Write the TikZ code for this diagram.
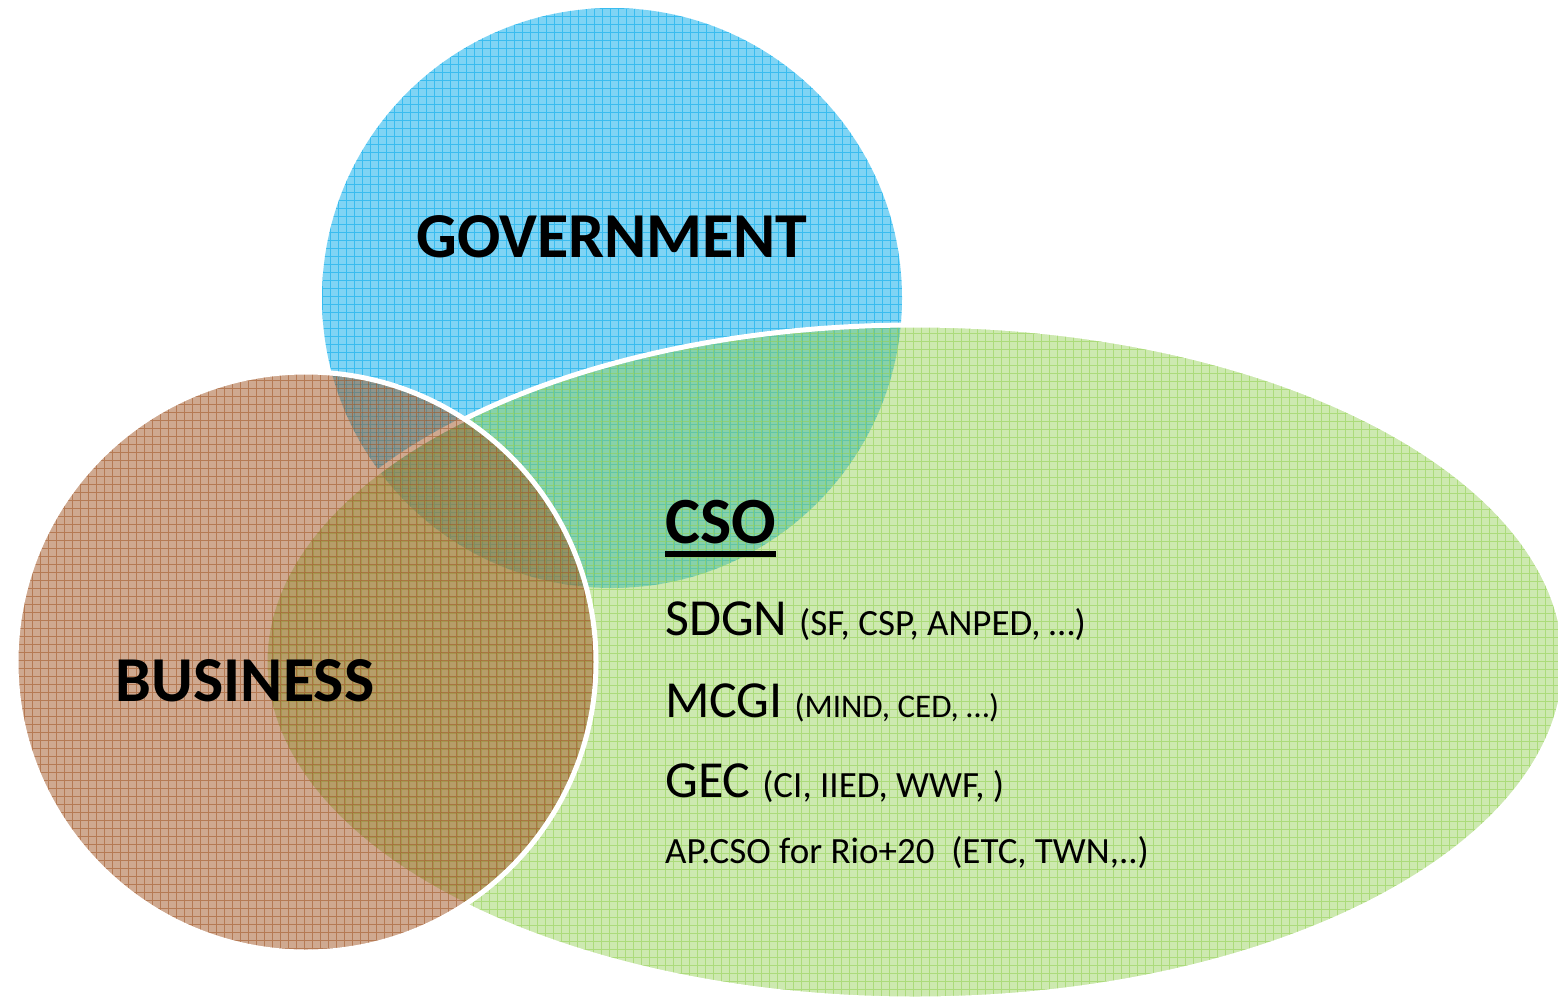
\documentclass[tikz,border=0pt]{standalone}
\usepackage{fontspec}
\setmainfont{Carlito}
\definecolor{blueC}{RGB}{0,170,235}
\definecolor{greenC}{RGB}{146,208,80}
\definecolor{brownC}{RGB}{160,85,35}
\newcommand{\myfs}[1]{\fontsize{#1}{#1}\selectfont}
\begin{document}
\begin{tikzpicture}[x=1pt,y=-1pt,
  gridlines/.style={line width=0.9pt, opacity=0.55},
  outline/.style={draw=white, line width=5pt},
  bigtitle/.style={font=\bfseries\myfs{64}, inner sep=0pt, anchor=base},
  item/.style={font=\myfs{52}, inner sep=0pt, anchor=base west}]
\useasboundingbox (0,0) rectangle (1558,996);
\fill[white] (0,0) rectangle (1558,996);

% Government circle
\fill[blueC, fill opacity=0.5] (612,298) circle (290pt);
\begin{scope}
  \clip (612,298) circle (290pt);
  \draw[blueC, gridlines]
    \foreach \i in {322,330,...,906} {(\i,8) -- (\i,588)}
    \foreach \j in {8,16,...,592} {(322,\j) -- (902,\j)};
\end{scope}

% CSO ellipse
\fill[greenC, fill opacity=0.45] (915,662) ellipse [x radius=650pt, y radius=337pt];
\begin{scope}
  \clip (915,662) ellipse [x radius=650pt, y radius=337pt];
  \draw[greenC, gridlines]
    \foreach \i in {265,273,...,1569} {(\i,325) -- (\i,1000)}
    \foreach \j in {325,333,...,1000} {(265,\j) -- (1565,\j)};
\end{scope}
\draw[outline] (915,662) ellipse [x radius=650pt, y radius=337pt];

% Business circle
\fill[brownC, fill opacity=0.5] (306,662) circle (290pt);
\begin{scope}
  \clip (306,662) circle (290pt);
  \draw[brownC, gridlines]
    \foreach \i in {16,24,...,600} {(\i,372) -- (\i,952)}
    \foreach \j in {372,380,...,956} {(16,\j) -- (596,\j)};
\end{scope}
\draw[outline] (306,662) circle (290pt);

% Labels
\node[bigtitle] (gov) at (612,257) {GOVERNMENT};
\node[bigtitle] (bus) at (245,701) {BUSINESS};
\node[bigtitle, font=\bfseries\myfs{66}, anchor=base west] (cso) at (665,543) {CSO};
\draw[line width=6pt] ([yshift=-10.5pt]cso.base west) -- ([yshift=-10.5pt]cso.base east);
\node[item] (sdgn) at (665,635) {SDGN {\myfs{37}(SF, CSP, ANPED, …)}};
\node[item] (mcgi) at (665,717) {MCGI {\myfs{33}(MIND, CED, …)}};
\node[item] (gec) at (665,797) {GEC {\myfs{37}(CI, IIED, WWF, )}};
\node[item, font=\myfs{37}] (ap) at (665,863) {AP.CSO for Rio+20\ \ (ETC, TWN,..)};
\end{tikzpicture}
\end{document}
